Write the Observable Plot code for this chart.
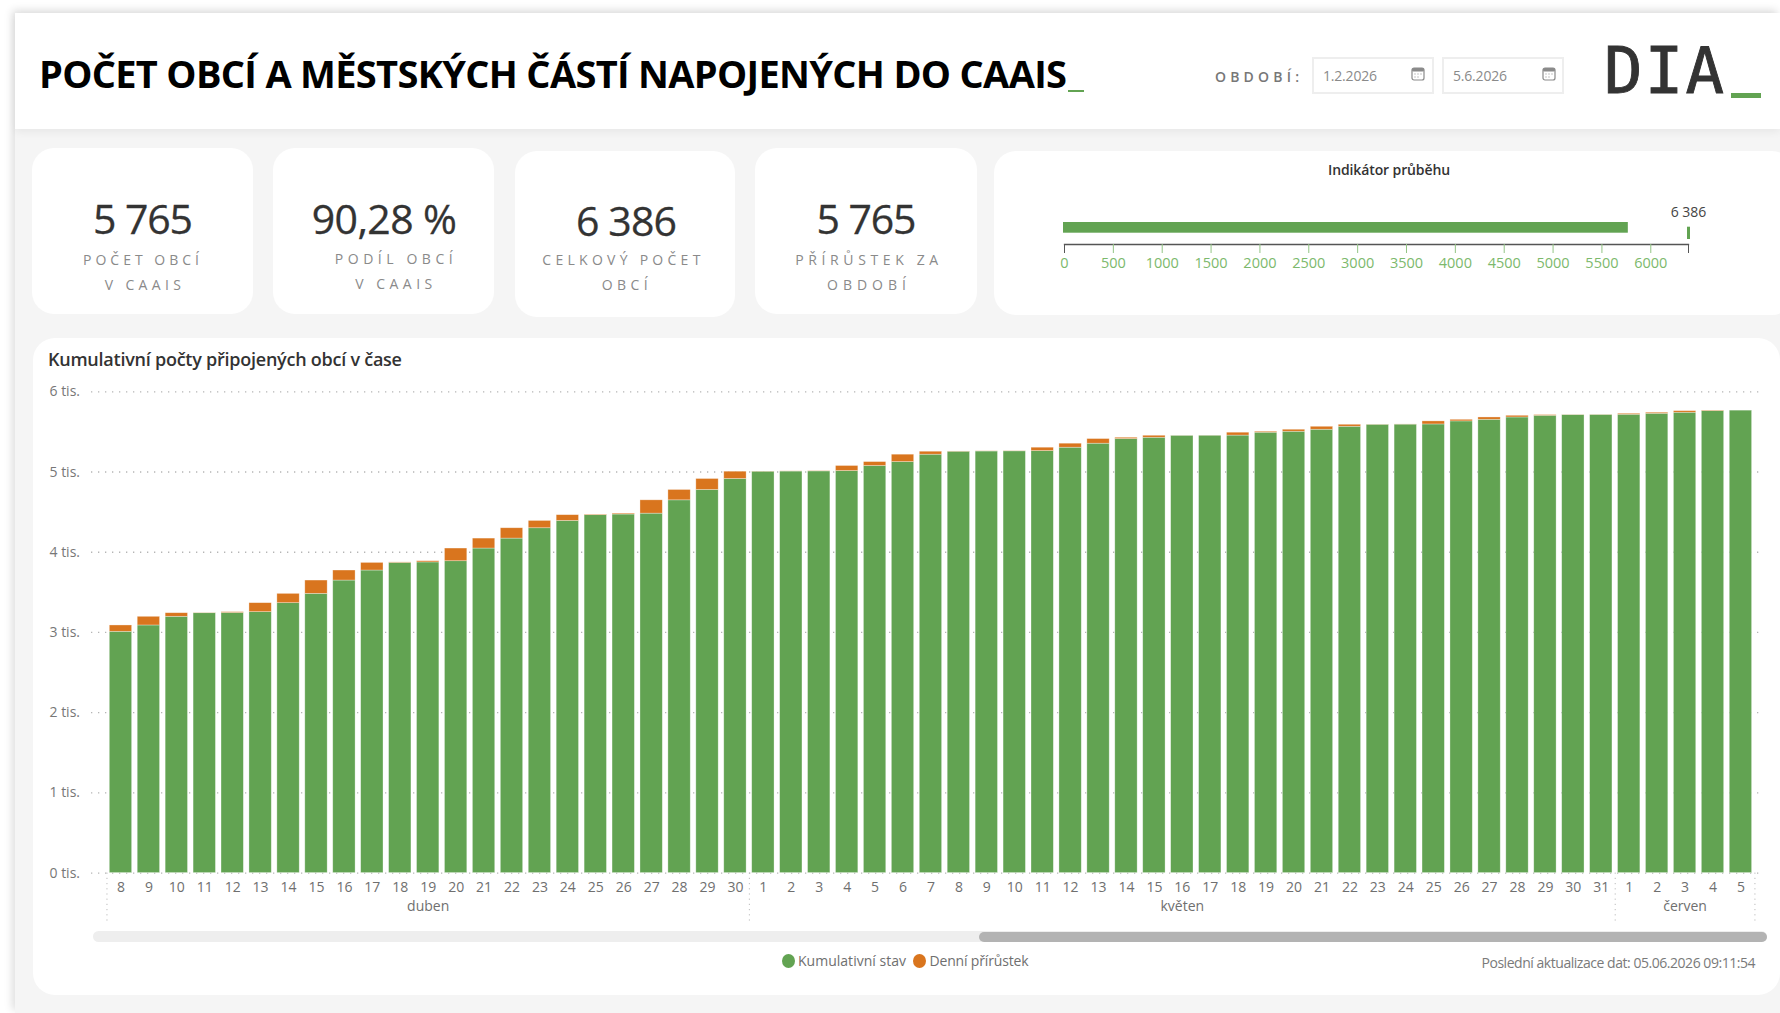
<!DOCTYPE html>
<html lang="cs">
<head>
<meta charset="utf-8">
<title>Počet obcí a městských částí napojených do CAAIS</title>
<script src="https://cdn.jsdelivr.net/npm/d3@7"></script>
<script src="https://cdn.jsdelivr.net/npm/@observablehq/plot@0.6"></script>
<style>
html,body{margin:0;width:1780px;height:1013px;overflow:hidden;background:#fff;font-family:"Open Sans",sans-serif}
#main{position:absolute;left:15px;top:13px;width:1765px;height:1000px;background:#f5f5f5;box-shadow:-3px -3px 8px rgba(0,0,0,.13)}
#head{position:absolute;left:15px;top:13px;width:1765px;height:116px;background:#fff;box-shadow:0 3px 8px rgba(0,0,0,.06)}
.card{position:absolute;background:#fff;border-radius:22px}
.lbl{position:absolute;white-space:nowrap;line-height:1;transform:translateY(-50%)}
.box{position:absolute;top:57px;width:118px;height:33px;border:2px solid #eee}
.dot{position:absolute;border-radius:50%;width:13px;height:14px;top:954px}
svg.plot{position:absolute;background:transparent;overflow:visible}
.bar{position:absolute}
</style>
</head>
<body>
<div id="main"></div><div id="head"></div>
<div class="card" style="left:32px;top:148px;width:221px;height:166px"></div>
<div class="card" style="left:273px;top:148px;width:221px;height:166px"></div>
<div class="card" style="left:515px;top:151px;width:220px;height:166px"></div>
<div class="card" style="left:755px;top:148px;width:222px;height:166px"></div>
<div class="card" style="left:994px;top:151px;width:800px;height:164px"></div>
<div class="card" style="left:33px;top:338px;width:1747px;height:657px"></div>
<div class="box" style="left:1312px"></div><div class="box" style="left:1442px"></div>
<div class="bar" style="left:1731px;top:93px;width:30px;height:5px;background:#62a352"></div>
<div class="bar" style="left:1068px;top:90px;width:16px;height:2px;background:#62a352"></div>
<div class="bar" style="left:93px;top:931px;width:1674px;height:11px;border-radius:6px;background:#eee"></div>
<div class="bar" style="left:979px;top:932px;width:788px;height:10px;border-radius:5px;background:#b3b3b3"></div>
<div class="dot" style="left:782px;background:#62a352"></div>
<div class="dot" style="left:913px;background:#d9751e"></div>
<div id="charts"></div>
<script>
// ---------- data ----------
const dnyDuben = [8,9,10,11,12,13,14,15,16,17,18,19,20,21,22,23,24,25,26,27,28,29,30];
const dnyKveten = [1,2,3,4,5,6,7,8,9,10,11,12,13,14,15,16,17,18,19,20,21,22,23,24,25,26,27,28,29,30,31];
const dnyCerven = [1,2,3,4,5];
const mesice = ["duben","květen","červen"];
const kumulativniStav = [3008,3087,3195,3240,3243,3253,3365,3481,3647,3772,3867,3873,3888,4046,4170,4299,4390,4462,4470,4481,4647,4776,4913,
  5004,5006,5008,5012,5075,5124,5216,5253,5256,5258,5261,5303,5353,5411,5427,5452,5453,5454,5490,5502,5527,5564,5589,5591,5593,5631,5651,5680,5701,5710,5712,
  5714,5726,5739,5759,5765];
const denniPrirustek = [79,108,45,3,10,112,116,166,125,95,6,15,158,124,129,91,72,8,11,166,129,137,91,
  2,2,4,63,49,92,37,3,2,3,42,50,58,16,25,1,1,36,12,25,37,25,2,2,38,20,29,21,9,2,2,
  12,13,20,6,0];
const osaY = [0,1000,2000,3000,4000,5000,6000];
const osaPrubeh = [0,500,1000,1500,2000,2500,3000,3500,4000,4500,5000,5500,6000];
const pocetObci = 5765, celkemObci = 6386;
const nazevStav = "Kumulativní stav", nazevPrirustek = "Denní přírůstek";

const GREEN = "#62a352", ORANGE = "#d9751e", FONT = "'Open Sans',sans-serif";

// ---------- derived table ----------
const dny = [...dnyDuben.map(d=>`duben-${d}`),...dnyKveten.map(d=>`květen-${d}`),...dnyCerven.map(d=>`červen-${d}`)];
const radky = dny.flatMap((k,i)=>[
  {den:k,serie:nazevStav,hodnota:kumulativniStav[i]},
  {den:k,serie:nazevPrirustek,hodnota:denniPrirustek[i]}
]);
const prvniDny = ["duben-8","květen-1","červen-1"];
const stredy = [{den:"duben-19",t:mesice[0]},{den:"květen-16",t:mesice[1]},{den:"červen-3",t:mesice[2]}];
const posledniDen = ["červen-5"];

// ---------- main chart ----------
const hlavni = Plot.plot({
  width:1780,height:600,marginLeft:106.5,marginRight:25.6,marginTop:53.3,marginBottom:65.4,
  style:{fontFamily:FONT,fontSize:"14px",background:"transparent",position:"absolute",left:"0px",top:"338px",overflow:"visible"},
  x:{type:"band",domain:dny,paddingInner:0.2,paddingOuter:0.1},
  y:{domain:[0,6000]},
  color:{domain:[nazevStav,nazevPrirustek],range:[GREEN,ORANGE]},
  marks:[
    Plot.ruleY(osaY,{stroke:"#b5b5b5",strokeWidth:1.3,strokeDasharray:"1.3 5.7",insetLeft:-15.5,insetRight:-9}),
    Plot.barY(radky,{x:"den",y:"hodnota",fill:"serie",order:[nazevStav,nazevPrirustek],stroke:"#fff",strokeOpacity:.45,strokeWidth:.7}),
    Plot.axisY({ticks:osaY,tickSize:0,tickPadding:27,label:null,tickFormat:d=>`${d/1000} tis.`,color:"#777",fontSize:14}),
    Plot.axisX({tickSize:0,tickPadding:9,label:null,tickFormat:d=>d.split("-")[1],color:"#6f6f6f",fontSize:14}),
    Plot.text(stredy,{x:"den",frameAnchor:"bottom",dy:38,text:"t",fill:"#6f6f6f",fontSize:14}),
    Plot.ruleX(prvniDny,{x:d=>d,dx:-14,insetTop:481.3,insetBottom:-49,stroke:"#bbb",strokeDasharray:"1.2 4"}),
    Plot.ruleX(posledniDen,{x:d=>d,dx:14,insetTop:481.3,insetBottom:-49,stroke:"#bbb",strokeDasharray:"1.2 4"})
  ]
});
document.getElementById("charts").append(hlavni);

// ---------- progress indicator ----------
const radek = "průběh";
const prubeh = Plot.plot({
  width:786,height:164,marginLeft:70,marginRight:92,marginTop:71,marginBottom:71,
  style:{fontFamily:FONT,fontSize:"14px",background:"transparent",position:"absolute",left:"994px",top:"151px",overflow:"visible"},
  x:{domain:[0,celkemObci]},
  y:{type:"band",domain:[radek],padding:0,axis:null,label:null,range:[71,88]},
  marks:[
    Plot.barX([pocetObci],{x:d=>d,y:()=>radek,fill:GREEN,insetBottom:6.3,insetLeft:-1,insetRight:-.5}),
    Plot.tickX([celkemObci],{x:d=>d,y:()=>radek,stroke:GREEN,strokeWidth:3,insetTop:4.7}),
    Plot.text([celkemObci],{x:d=>d,y:()=>radek,dy:-18.5,text:()=>"6 386",fill:"#444",fontSize:14}),
    Plot.frame({anchor:"bottom",stroke:"#555",strokeWidth:1.3}),
    Plot.axisX({ticks:osaPrubeh,tickSize:9,stroke:"#93c585",text:null,label:null}),
    Plot.axisX({ticks:osaPrubeh,tickSize:0,tickPadding:13,label:null,tickFormat:d=>String(d),color:"#7cb96c",fontSize:14.5}),
    Plot.axisX({ticks:[0,celkemObci],tickSize:9,stroke:"#555",text:null,label:null})
  ]
});
document.getElementById("charts").append(prubeh);

// ---------- HTML text ----------
function T(text,o){
  const s=document.createElement("span");
  s.className="lbl";s.textContent=text;
  s.style.fontSize=o.s+"px";s.style.color=o.c||"#333";s.style.fontWeight=o.b||400;
  if(o.f)s.style.fontFamily=o.f;
  if(o.k)s.style.webkitTextStroke=o.k+"px "+(o.c||"#333");
  document.body.append(s);
  s.style.top=o.y+"px";
  if(o.w){
    const m=s.getBoundingClientRect().width;
    s.style.letterSpacing=((o.w-m)/(text.length-1))+"px";
  }
  const w=s.getBoundingClientRect().width;
  s.style.left=(o.cx!==undefined?o.cx-w/2:o.x)+"px";
}
T("POČET OBCÍ A MĚSTSKÝCH ČÁSTÍ NAPOJENÝCH DO CAAIS",{x:39,y:73,s:38,b:700,c:"#000",w:1028});
T("OBDOBÍ:",{x:1215,y:77,s:14,b:600,c:"#777",w:84});
T("1.2.2026",{x:1323,y:75.5,s:14,c:"#8a8a8a",w:54});
T("5.6.2026",{x:1453,y:75.5,s:14,c:"#8a8a8a",w:54});
T("DIA",{x:1604,y:71,s:64,c:"#333",f:"'DejaVu Sans Mono',monospace",w:120,k:.9});

const kpiHodnoty=["5 765","90,28 %","6 386","5 765"];
const kpiStredy=[142.5,384,626,866];
const kpiY=[217.5,217.5,219.5,217.5];
kpiHodnoty.forEach((t,i)=>T(t,{cx:kpiStredy[i],y:kpiY[i],s:41,c:"#333",k:.3,w:[100,145,101,100][i]}));
const kpiPopisky=[
  ["POČET OBCÍ",143,260,116],["V CAAIS",145,285,76],
  ["PODÍL OBCÍ",396,258.5,118],["V CAAIS",396,283.5,77],
  ["CELKOVÝ POČET",623.5,260,158],["OBCÍ",627,285,46],
  ["PŘÍRŮSTEK ZA",869,260,143],["OBDOBÍ",869,285,79]];
kpiPopisky.forEach(([t,cx,y,w])=>T(t,{cx,y,w,s:14,b:500,c:"#8a8a8a"}));

T("Indikátor průběhu",{cx:1389,y:170,s:14,b:600,c:"#333",w:122});
T("Kumulativní počty připojených obcí v čase",{x:48,y:359,s:18,b:600,c:"#333",w:354});
T(nazevStav,{x:798,y:961,s:14,c:"#6f6f6f",w:108});
T(nazevPrirustek,{x:929.5,y:961,s:14,c:"#6f6f6f",w:99});
T("Poslední aktualizace dat: 05.06.2026 09:11:54",{x:1481.5,y:963,s:14,c:"#7a7a7a",w:274});

// calendar icons
[1418,1548.5].forEach(cx=>{
  const ns="http://www.w3.org/2000/svg";
  const s=document.createElementNS(ns,"svg");
  s.setAttribute("width",14);s.setAttribute("height",14);s.setAttribute("viewBox","0 0 14 14");
  s.style.cssText=`position:absolute;left:${cx-7}px;top:67px`;
  s.innerHTML='<rect x="1" y="1" width="12" height="12" rx="2" fill="none" stroke="#8a8a8a" stroke-width="1.2"/><rect x="1" y="1" width="12" height="3.5" rx="1.5" fill="#8a8a8a"/><path d="M3.5 7h1M6.5 7h1M9.5 7h1M3.5 10h1M6.5 10h1" stroke="#8a8a8a" stroke-width="1.2"/>';
  document.body.append(s);
});
</script>
</body>
</html>
